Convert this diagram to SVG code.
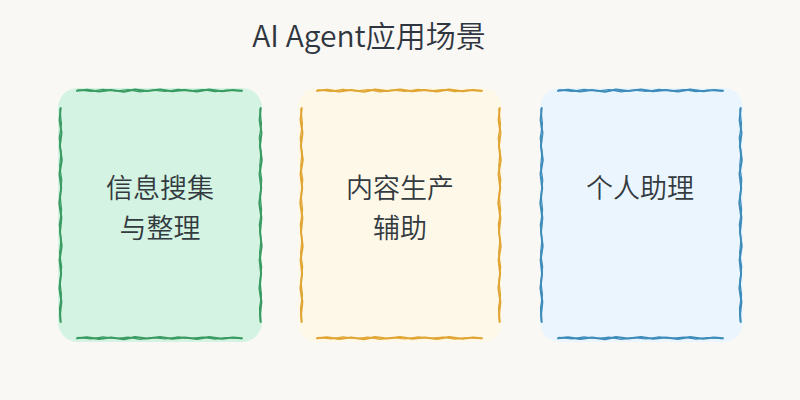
<svg xmlns="http://www.w3.org/2000/svg" width="800" height="400" viewBox="0 0 800 400">
  <defs>
    <style>
      .bg { fill: #f9f8f4; }
      .title { font-family: "Noto Sans CJK SC", "Noto Sans", sans-serif; font-size: 30px; font-weight: 350; fill: #2f3640; text-anchor: middle; stroke: none; }
      .label { font-family: "Noto Sans CJK SC", "Noto Sans", sans-serif; font-size: 27px; font-weight: 350; fill: #333a40; text-anchor: middle; stroke: none; }
      .edge { fill: none; stroke-linecap: round; stroke-linejoin: round; }
      .main { stroke-width: 2; }
      .thin { stroke-width: 1.2; }
      .card { stroke: none; }
      .green { stroke: #3a9b62; }
      .green .card { fill: #d4f3e2; }
      .gold { stroke: #e0a533; }
      .gold .card { fill: #fdf8e8; }
      .blue { stroke: #3d8bb9; }
      .blue .card { fill: #ebf5fd; }
    </style>
    <g id="hedge">
      <path class="edge main" d="M0 0.3 L10 -0.8 L22 0.9 L34 -0.5 L47 1.2 L58 -0.9 L70 0.6 L83 -1.1 L95 0.8 L108 -0.4 L120 1.1 L132 -0.9 L145 0.7 L156 -0.6 L165 0.2"/>
      <path class="edge thin" d="M1 -0.7 L14 0.9 L26 -1.2 L39 0.5 L51 -0.9 L63 1.3 L76 -0.3 L88 1 L101 -1.2 L113 0.4 L126 -0.8 L138 1.2 L150 -0.5 L164 0.6"/>
    </g>
    <g id="vedge">
      <path class="edge main" d="M0.2 0 L-0.9 12 L1 25 L-0.6 38 L1.3 52 L-1 66 L0.7 80 L-1.2 95 L0.9 110 L-0.5 124 L1.2 138 L-0.9 152 L0.6 166 L-1.1 180 L0.9 194 L-0.4 206 L0.2 214"/>
      <path class="edge thin" d="M-0.6 1 L1 16 L-1.3 30 L0.5 44 L-0.8 58 L1.3 72 L-0.4 87 L1.1 102 L-1.2 117 L0.5 131 L-0.9 145 L1.2 159 L-0.6 173 L1 187 L-1 200 L-0.2 213"/>
    </g>
  </defs>

  <rect class="bg" x="0" y="0" width="800" height="400"/>

  <g id="title">
    <text class="title" x="369" y="47">AI Agent应用场景</text>
  </g>

  <g id="node-info" class="green">
    <rect class="card" x="58" y="88" width="204" height="254" rx="20"/>
    <use href="#hedge" x="77" y="90.5"/>
    <use href="#hedge" x="77" y="338"/>
    <use href="#vedge" x="60.5" y="108"/>
    <use href="#vedge" x="260.5" y="108"/>
    <text class="label" x="160" y="198">信息搜集</text>
    <text class="label" x="160" y="238">与整理</text>
  </g>

  <g id="node-content" class="gold">
    <rect class="card" x="298" y="88" width="204" height="254" rx="20"/>
    <use href="#hedge" x="317" y="90.5"/>
    <use href="#hedge" x="317" y="338"/>
    <use href="#vedge" x="301.5" y="108"/>
    <use href="#vedge" x="499.5" y="108"/>
    <text class="label" x="400" y="198">内容生产</text>
    <text class="label" x="400" y="238">辅助</text>
  </g>

  <g id="node-assistant" class="blue">
    <rect class="card" x="540" y="88" width="203" height="254" rx="20"/>
    <use href="#hedge" x="558" y="90.5"/>
    <use href="#hedge" x="558" y="338"/>
    <use href="#vedge" x="541.5" y="108"/>
    <use href="#vedge" x="740.5" y="108"/>
    <text class="label" x="640" y="198">个人助理</text>
  </g>

  <g id="connectors"/>
</svg>
